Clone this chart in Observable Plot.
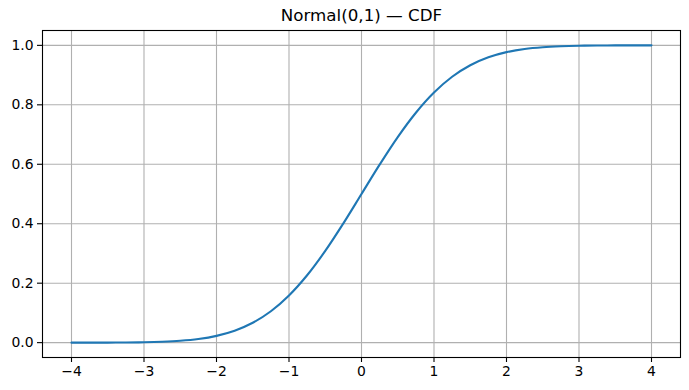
<!DOCTYPE html>
<html>
<head>
<meta charset="utf-8">
<script src="https://cdn.jsdelivr.net/npm/d3@7"></script>
<script src="https://cdn.jsdelivr.net/npm/@observablehq/plot@0.6"></script>
<style>
  html, body { margin: 0; padding: 0; background: #fff; }
  svg { display: block; }
</style>
</head>
<body>
<div id="chart"></div>
<script>
const title = "Normal(0,1) — CDF";
const xs = [-4, -3.75, -3.5, -3.25, -3, -2.75, -2.5, -2.25, -2, -1.75, -1.5, -1.25, -1, -0.75, -0.5, -0.25,
  0, 0.25, 0.5, 0.75, 1, 1.25, 1.5, 1.75, 2, 2.25, 2.5, 2.75, 3, 3.25, 3.5, 3.75, 4];
const ys = [0.0000, 0.0001, 0.0002, 0.0006, 0.0013, 0.0030, 0.0062, 0.0122, 0.0228, 0.0401, 0.0668, 0.1056,
  0.1587, 0.2266, 0.3085, 0.4013, 0.5000, 0.5987, 0.6915, 0.7734, 0.8413, 0.8944, 0.9332, 0.9599,
  0.9772, 0.9878, 0.9938, 0.9970, 0.9987, 0.9994, 0.9998, 0.9999, 1.0000];
const xTicks = [-4, -3, -2, -1, 0, 1, 2, 3, 4];
const yTicks = [0.0, 0.2, 0.4, 0.6, 0.8, 1.0];

const data = xs.map((x, i) => ({x, y: ys[i]}));
const minus = v => (v < 0 ? "\u2212" : "") + Math.abs(v);

const chart = Plot.plot({
  width: 689,
  height: 390,
  marginLeft: 42,
  marginRight: 9,
  marginTop: 30,
  marginBottom: 33,
  style: {fontFamily: "DejaVu Sans", fontSize: "13.9px", color: "black", background: "white"},
  x: {domain: [-4.4, 4.4]},
  y: {domain: [-0.05, 1.05]},
  marks: [
    Plot.ruleX(xTicks, {stroke: "#b0b0b0", strokeWidth: 1.1}),
    Plot.ruleY(yTicks, {stroke: "#b0b0b0", strokeWidth: 1.1}),
    Plot.line(data, {x: "x", y: "y", stroke: "#1f77b4", strokeWidth: 2.1, curve: "catmull-rom"}),
    Plot.frame({stroke: "black", strokeWidth: 1.1}),
    Plot.axisX({ticks: xTicks, tickFormat: minus, tickSize: 5, tickPadding: 4, label: null, fontSize: 13.9, stroke: "black", strokeWidth: 1.1}),
    Plot.axisY({ticks: yTicks, tickFormat: d3.format(".1f"), tickSize: 5, tickPadding: 4, label: null, fontSize: 13.9, stroke: "black", strokeWidth: 1.1}),
    Plot.text([title], {frameAnchor: "top", dy: -21, text: d => d, fontSize: 16.7, fill: "black"})
  ]
});
document.getElementById("chart").appendChild(chart);
</script>
</body>
</html>
